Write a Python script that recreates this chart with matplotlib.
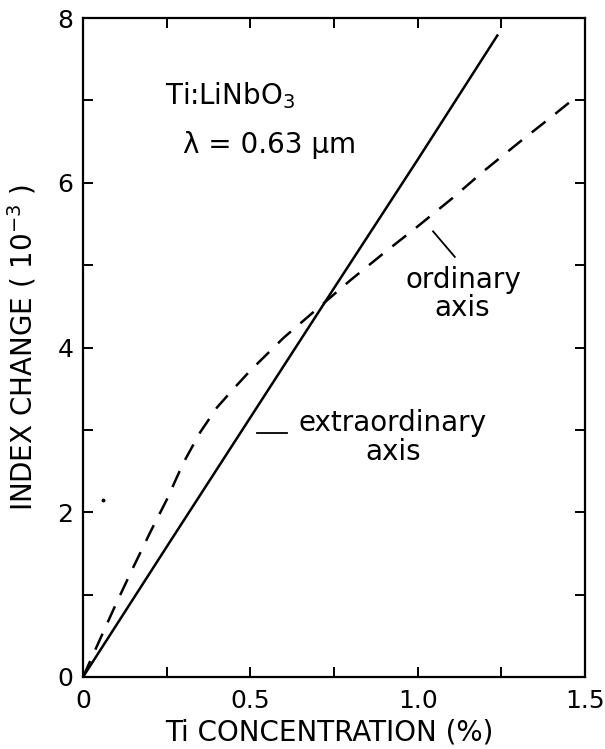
import matplotlib
matplotlib.use("Agg")
import matplotlib.pyplot as plt
from matplotlib.ticker import FixedLocator, FixedFormatter

plt.rcParams['font.family'] = ['DejaVu Sans']
plt.rcParams['mathtext.fontset'] = 'dejavusans'

# Extraordinary axis (solid line)
extra_x = [0, 0.25, 0.5, 0.75, 1.0, 1.24]
extra_y = [0, 1.58, 3.15, 4.72, 6.28, 7.8]

# Ordinary axis (dashed line)
ord_x = [0, 0.05, 0.10, 0.15, 0.20, 0.25, 0.30, 0.35, 0.40, 0.45, 0.50,
         0.55, 0.60, 0.70, 0.80, 0.90, 1.00, 1.10, 1.20, 1.30, 1.40, 1.47]
ord_y = [0, 0.45, 0.9, 1.33, 1.75, 2.15, 2.6, 2.97, 3.27, 3.5, 3.72,
         3.92, 4.12, 4.47, 4.82, 5.15, 5.47, 5.8, 6.15, 6.48, 6.8, 7.03]

# stray dot in the scan
dot_x = [0.06]
dot_y = [2.15]

xticks_major = [0, 0.5, 1.0, 1.5]
xtick_labels = ["0", "0.5", "1.0", "1.5"]
xticks_minor = [0.25, 0.75, 1.25]
yticks_major = [0, 2, 4, 6, 8]
ytick_labels = ["0", "2", "4", "6", "8"]
yticks_minor = [1, 3, 5, 7]

fig = plt.figure(figsize=(6.05, 7.49), dpi=100)
ax = fig.add_axes([83/605, 1-677/749, (585-83)/605, (677-18)/749])

ax.plot(extra_x, extra_y, color='black', lw=1.8, solid_capstyle='butt')
ax.plot(ord_x, ord_y, color='black', lw=1.8, dashes=(7, 5))
ax.plot(dot_x, dot_y, 'o', color='black', ms=1.8)

ax.set_xlim(0, 1.5)
ax.set_ylim(0, 8)

ax.xaxis.set_major_locator(FixedLocator(xticks_major))
ax.xaxis.set_major_formatter(FixedFormatter(xtick_labels))
ax.xaxis.set_minor_locator(FixedLocator(xticks_minor))
ax.yaxis.set_major_locator(FixedLocator(yticks_major))
ax.yaxis.set_major_formatter(FixedFormatter(ytick_labels))
ax.yaxis.set_minor_locator(FixedLocator(yticks_minor))

ax.tick_params(which='both', direction='in', length=7, width=1.4,
               top=True, right=True, labelsize=18)
ax.tick_params(axis='x', pad=9)
ax.tick_params(axis='y', pad=7)
for s in ax.spines.values():
    s.set_linewidth(1.6)

ax.set_xlabel("Ti CONCENTRATION (%)", fontsize=20)
ax.xaxis.set_label_coords(0.49, -0.063)
ax.set_ylabel("INDEX CHANGE ( 10$^{-3}$ )", fontsize=20)
ax.yaxis.set_label_coords(-0.088, 0.5)

ax.text(0.245, 7.06, "Ti:LiNbO$_3$", fontsize=20, ha='left', va='center')
ax.text(0.30, 6.46, "λ = 0.63 μm", fontsize=20, ha='left', va='center')

ax.text(1.138, 4.82, "ordinary", fontsize=20, ha='center', va='center')
ax.text(1.132, 4.48, "axis", fontsize=20, ha='center', va='center')
ax.plot([1.046, 1.111], [5.41, 5.10], color='black', lw=1.3)

ax.text(0.926, 3.08, "extraordinary", fontsize=20, ha='center', va='center')
ax.text(0.926, 2.73, "axis", fontsize=20, ha='center', va='center')
ax.plot([0.52, 0.61], [2.96, 2.96], color='black', lw=1.3)

fig.savefig("out.png", dpi=100)
